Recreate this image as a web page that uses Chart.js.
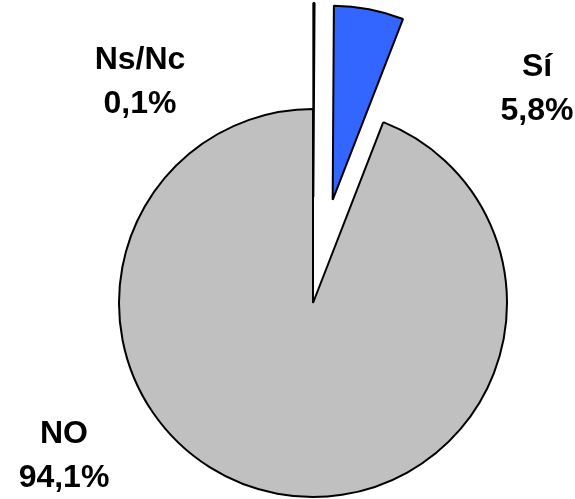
<!DOCTYPE html>
<html>
<head>
<meta charset="utf-8">
<script src="https://cdn.jsdelivr.net/npm/chart.js@4.4.1/dist/chart.umd.min.js"></script>
<style>
  html, body { margin: 0; padding: 0; background: #fff; }
  #wrap { width: 575px; height: 499px; }
</style>
</head>
<body>
<div id="wrap"><canvas id="pie" width="575" height="499"></canvas></div>
<script>
// slices in clockwise order starting at 12 o'clock
const categories = ['Ns/Nc', 'Sí', 'NO'];
const percentages = [0.1, 5.8, 94.1];

const sliceColors = ['#ffffff', '#3366ff', '#c0c0c0'];
// how far each slice is pulled away from the centre (px)
const explodeBy = [106, 105, 0];
// text anchor for each slice: centre x, first line y
const labelSpots = [[140, 60], [537, 67], [64, 434]];

function pct(v) {
    return v.toFixed(1).replace('.', ',') + '%';
}

const explodePlugin = {
    id: 'explode',
    afterDatasetsUpdate(chart) {
        const meta = chart.getDatasetMeta(0);
        meta.data.forEach((arc, i) => {
            const d = explodeBy[i];
            if (!d) return;
            const mid = (arc.startAngle + arc.endAngle) / 2;
            arc.x += Math.cos(mid) * d;
            arc.y += Math.sin(mid) * d;
        });
    }
};

const labelPlugin = {
    id: 'sliceLabels',
    afterDraw(chart) {
        const ctx = chart.ctx;
        ctx.save();
        ctx.font = 'bold 32px "Liberation Sans", Arial, sans-serif';
        ctx.fillStyle = '#000';
        ctx.textAlign = 'center';
        ctx.textBaseline = 'middle';
        categories.forEach((c, i) => {
            const [x, y] = labelSpots[i];
            ctx.fillText(c, x, y);
            ctx.fillText(pct(percentages[i]), x, y + 44);
        });
        ctx.restore();
    }
};

const ctx = document.getElementById('pie').getContext('2d');
new Chart(ctx, {
    type: 'pie',
    data: {
        labels: categories,
        datasets: [{
            data: percentages,
            backgroundColor: sliceColors,
            borderColor: '#000',
            borderWidth: 2,
            radius: 194,
            clip: false
        }]
    },
    options: {
        responsive: false,
        animation: false,
        events: [],
        layout: {
            padding: { left: 51, right: 0, top: 107, bottom: 0 }
        },
        plugins: {
            legend: { display: false },
            tooltip: { enabled: false }
        }
    },
    plugins: [explodePlugin, labelPlugin]
});
</script>
</body>
</html>
